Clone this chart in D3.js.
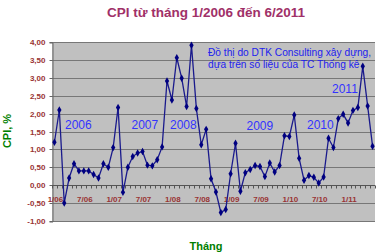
<!DOCTYPE html>
<html>
<head>
<meta charset="utf-8">
<script src="https://cdn.jsdelivr.net/npm/d3@7"></script>
<style>
  html, body { margin: 0; padding: 0; background: #fff; }
  svg { display: block; font-family: "Liberation Sans", Arial, sans-serif; }
</style>
</head>
<body>
<svg id="chart" width="380" height="252"></svg>
<script>
  "use strict";

  // monthly CPI (%)
  var cpi2006 = [1.2, 2.1, -0.5, 0.2, 0.6, 0.4, 0.4, 0.4, 0.3, 0.2, 0.6, 0.5];
  var cpi2007 = [1.05, 2.17, -0.2, 0.5, 0.8, 0.9, 0.94, 0.56, 0.54, 0.71, 1.07, 2.91];
  var cpi2008 = [2.38, 3.56, 2.99, 2.2, 3.91, 2.14, 1.13, 1.56, 0.18, -0.19, -0.76, -0.68];
  var cpi2009 = [0.32, 1.17, -0.17, 0.35, 0.44, 0.55, 0.52, 0.24, 0.62, 0.37, 0.55, 1.38];
  var cpi2010 = [1.36, 1.96, 0.75, 0.14, 0.27, 0.22, 0.06, 0.23, 1.31, 1.05, 1.86, 1.98];
  var cpi2011 = [1.74, 2.09, 2.17, 3.32, 2.21, 1.09];

  var yearCodes = ["06", "07", "08", "09", "10", "11"];
  var yearNames = ["2006", "2007", "2008", "2009", "2010", "2011"];
  var xTickLabels = ["1/06", "7/06", "1/07", "7/07", "1/08", "7/08", "1/09", "7/09", "1/10", "7/10", "1/11"];
  var yTickValues = [-1, -0.5, 0, 0.5, 1, 1.5, 2, 2.5, 3, 3.5, 4];

  var title = "CPI từ tháng 1/2006 đến 6/2011";
  var note = ["Đồ thị do DTK Consulting xây dựng,", "dựa trên số liệu của TC Thống kê"];

  (function () {
    var perYear = [cpi2006, cpi2007, cpi2008, cpi2009, cpi2010, cpi2011];
    var data = [];
    perYear.forEach(function (vals, yi) {
      vals.forEach(function (v, mi) {
        data.push({ key: (mi + 1) + "/" + yearCodes[yi], value: v });
      });
    });

    var svg = d3.select("#chart");
    var pLeft = 52, pRight = 375, pTop = 42, pBottom = 221;

    var x = d3.scaleBand().domain(data.map(function (d) { return d.key; })).range([pLeft, pRight]);
    var y = d3.scaleLinear().domain([-1, 4]).range([pBottom, pTop]);

    // plot area
    svg.append("rect")
      .attr("x", pLeft).attr("y", pTop)
      .attr("width", pRight - pLeft).attr("height", pBottom - pTop)
      .attr("fill", "#c0c0c0");

    // gridlines
    svg.append("g")
      .selectAll("line")
      .data(yTickValues)
      .enter()
      .append("line")
      .attr("x1", pLeft).attr("x2", pRight)
      .attr("y1", function (d) { return Math.round(y(d)) + 0.5; })
      .attr("y2", function (d) { return Math.round(y(d)) + 0.5; })
      .attr("stroke", "#777")
      .attr("stroke-width", 1);

    // y axis
    var fmt = function (d) { return d3.format(".2f")(d).replace(".", ",").replace("−", "-"); };
    var yAxis = svg.append("g")
      .attr("transform", "translate(" + (pLeft + 0.5) + ",0.5)")
      .call(d3.axisLeft(y).tickValues(yTickValues).tickFormat(fmt).tickSize(3).tickPadding(4));
    yAxis.select(".domain").attr("stroke", "#666");
    yAxis.selectAll(".tick line").attr("stroke", "#666");
    yAxis.selectAll(".tick text")
      .attr("fill", "#993333")
      .style("font-size", "8px")
      .style("font-weight", "bold");
    yAxis.selectAll(".tick").attr("transform", function (d) {
      return "translate(0," + Math.round(y(d)) + ")";
    });

    // x axis at zero, one tick per month boundary
    var zeroY = Math.round(y(0)) + 0.5;
    var xg = svg.append("g");
    xg.append("line")
      .attr("x1", pLeft).attr("x2", pRight)
      .attr("y1", zeroY).attr("y2", zeroY)
      .attr("stroke", "#555");
    xg.selectAll("line.mt")
      .data(data.concat([null]))
      .enter()
      .append("line")
      .attr("class", "mt")
      .attr("x1", function (d, i) { return Math.round(pLeft + i * x.step()) + 0.5; })
      .attr("x2", function (d, i) { return Math.round(pLeft + i * x.step()) + 0.5; })
      .attr("y1", zeroY).attr("y2", zeroY + 3)
      .attr("stroke", "#555");
    xg.selectAll("text")
      .data(xTickLabels)
      .enter()
      .append("text")
      .attr("x", function (d) { return x(d) + x.bandwidth() / 2 + 1; })
      .attr("y", zeroY + 16)
      .attr("text-anchor", "middle")
      .attr("fill", "#993333")
      .style("font-size", "8px")
      .style("font-weight", "bold")
      .text(function (d) { return d; });

    // series
    var line = d3.line()
      .x(function (d) { return x(d.key) + x.bandwidth() / 2; })
      .y(function (d) { return y(d.value); });

    svg.append("path")
      .datum(data)
      .attr("d", line)
      .attr("fill", "none")
      .attr("stroke", "#1a1a8c")
      .attr("stroke-width", 1.3);

    svg.append("g")
      .selectAll("path")
      .data(data)
      .enter()
      .append("path")
      .attr("transform", function (d) {
        return "translate(" + (x(d.key) + x.bandwidth() / 2) + "," + y(d.value) + ")";
      })
      .attr("d", d3.symbol().type(d3.symbolDiamond).size(16))
      .attr("fill", "#000080");

    // year labels
    var yearPos = [[65, 128.5], [131.5, 128.5], [170, 128.5], [246.5, 130], [307, 128.5], [332, 92.5]];
    svg.append("g")
      .selectAll("text")
      .data(yearNames)
      .enter()
      .append("text")
      .attr("x", function (d, i) { return yearPos[i][0]; })
      .attr("y", function (d, i) { return yearPos[i][1]; })
      .attr("fill", "#3333ff")
      .style("font-size", "12px")
      .text(function (d) { return d; });

    // source note
    svg.append("g")
      .selectAll("text")
      .data(note)
      .enter()
      .append("text")
      .attr("x", 208)
      .attr("y", function (d, i) { return 56 + i * 12; })
      .attr("fill", "#2222ee")
      .style("font-size", "10.2px")
      .text(function (d) { return d; });

    // titles
    svg.append("text")
      .attr("x", 206).attr("y", 17)
      .attr("text-anchor", "middle")
      .attr("fill", "#a03068")
      .style("font-size", "13.5px")
      .style("font-weight", "bold")
      .text(title);

    svg.append("text")
      .attr("transform", "translate(11,131) rotate(-90)")
      .attr("text-anchor", "middle")
      .attr("fill", "#008000")
      .style("font-size", "11px")
      .style("font-weight", "bold")
      .text("CPI, %");

    svg.append("text")
      .attr("x", 206).attr("y", 250)
      .attr("text-anchor", "middle")
      .attr("fill", "#008000")
      .style("font-size", "11px")
      .style("font-weight", "bold")
      .text("Tháng");
  })();
</script>
</body>
</html>
